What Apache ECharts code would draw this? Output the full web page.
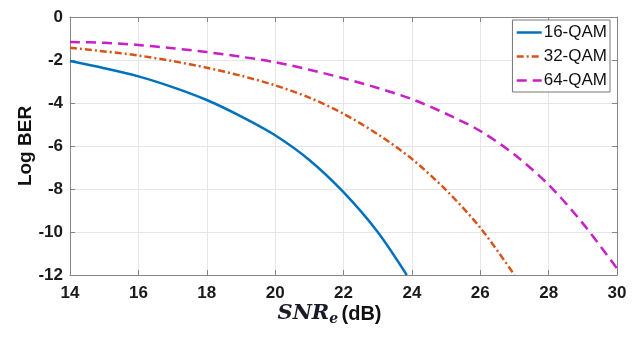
<!DOCTYPE html>
<html>
<head>
<meta charset="utf-8">
<script src="https://cdn.jsdelivr.net/npm/echarts@6/dist/echarts.min.js"></script>
<style>
    html, body { margin: 0; padding: 0; background: #fff; }
    #ber-chart { width: 636px; height: 342px; }
</style>
</head>
<body>
<div id="ber-chart"></div>
<script>
    var seriesNames = ['16-QAM', '32-QAM', '64-QAM'];
    var colors = ['#0072BD', '#D95319', '#C81FC8'];

    // SNR_e (dB) and log10(BER)
    var snr16 = [14, 15, 16, 17, 18, 19, 20, 21, 22, 23, 23.85];
    var ber16 = [-2.05, -2.38, -2.76, -3.26, -3.86, -4.62, -5.5, -6.65, -8.15, -10, -12];
    var snr32 = [14, 15, 16, 17, 18, 19, 20, 21, 22, 23, 24, 25, 26, 27];
    var ber32 = [-1.43, -1.6, -1.79, -2.05, -2.36, -2.73, -3.18, -3.75, -4.5, -5.45, -6.6, -8.05, -9.8, -12];
    var snr64 = [14, 15, 16, 17, 18, 19, 20, 21, 22, 23, 24, 25, 26, 27, 28, 29, 30];
    var ber64 = [-1.16, -1.2, -1.3, -1.45, -1.63, -1.85, -2.1, -2.45, -2.85, -3.3, -3.82, -4.5, -5.3, -6.4, -7.8, -9.6, -11.7];

    var xTicks = {min: 14, max: 30, interval: 2};
    var yTicks = {min: -12, max: 0, interval: 2};

    function pairs(xs, ys) {
        var out = [];
        for (var i = 0; i < xs.length; i++) {
            out.push([xs[i], ys[i]]);
        }
        return out;
    }

    var chart = echarts.init(document.getElementById('ber-chart'));
    var labelFont = {color: '#1a1a1a', fontFamily: 'Liberation Sans', fontWeight: 'bold', fontSize: 17};
    var boxLine = {show: true, onZero: false, lineStyle: {color: '#858585', width: 1}};
    var tickIn = {show: true, inside: true, length: 5, lineStyle: {color: '#858585'}};
    var grid = {show: true, lineStyle: {color: '#e6e6e6', width: 1}};

    function lineSeries(i, xs, ys, dash) {
        return {
            name: seriesNames[i],
            type: 'line',
            data: pairs(xs, ys),
            smooth: 0.3,
            showSymbol: false,
            symbol: 'none',
            lineStyle: {color: colors[i], width: 2.5, type: dash},
            itemStyle: {color: colors[i]}
        };
    }

    var option = {
        animation: false,
        grid: {left: 70, right: 19, top: 17, bottom: 67},
        legend: {
            orient: 'vertical',
            right: 26,
            top: 20,
            backgroundColor: '#fff',
            borderColor: '#777',
            borderWidth: 1,
            padding: [4, 3, 3, 3],
            itemWidth: 25,
            itemHeight: 16,
            itemGap: 7,
            itemStyle: {opacity: 0},
            lineStyle: {opacity: 1, width: 2.5},
            textStyle: {fontFamily: 'Liberation Sans', fontSize: 17, color: '#111', padding: [0, 0, 0, -3]},
            data: seriesNames
        },
        xAxis: [
            {
                type: 'value',
                min: xTicks.min, max: xTicks.max, interval: xTicks.interval,
                axisLine: boxLine,
                axisTick: tickIn,
                splitLine: grid,
                axisLabel: Object.assign({margin: 10}, labelFont),
                name: '{a|SNR}{b|e} {c|(dB)}',
                nameLocation: 'middle',
                nameGap: 27,
                nameMoveOverlap: false,
                nameTextStyle: {
                    padding: [0, 28, 0, 0],
                    rich: {
                        a: {fontFamily: 'DejaVu Serif', fontStyle: 'italic', fontWeight: 'bold', fontSize: 21, color: '#1a1a2a'},
                        b: {fontFamily: 'DejaVu Serif', fontStyle: 'italic', fontWeight: 'bold', fontSize: 14, color: '#1a1a2a', padding: [10, 0, 0, 0]},
                        c: {fontFamily: 'Liberation Sans', fontWeight: 'bold', fontSize: 20, color: '#111'}
                    }
                }
            },
            {
                type: 'value', position: 'top',
                min: xTicks.min, max: xTicks.max, interval: xTicks.interval,
                axisLine: boxLine, axisTick: tickIn,
                axisLabel: {show: false}, splitLine: {show: false}
            }
        ],
        yAxis: [
            {
                type: 'value',
                min: yTicks.min, max: yTicks.max, interval: yTicks.interval,
                axisLine: boxLine,
                axisTick: tickIn,
                splitLine: grid,
                axisLabel: Object.assign({margin: 7}, labelFont),
                name: 'Log BER',
                nameLocation: 'middle',
                nameGap: 35,
                nameMoveOverlap: false,
                nameTextStyle: {fontFamily: 'Liberation Sans', fontWeight: 'bold', fontSize: 19, color: '#111'}
            },
            {
                type: 'value', position: 'right',
                min: yTicks.min, max: yTicks.max, interval: yTicks.interval,
                axisLine: boxLine, axisTick: tickIn,
                axisLabel: {show: false}, splitLine: {show: false}
            }
        ],
        series: [
            lineSeries(0, snr16, ber16, 'solid'),
            lineSeries(1, snr32, ber32, [7, 3, 2, 3]),
            lineSeries(2, snr64, ber64, [10, 6])
        ]
    };
    chart.setOption(option);
</script>
</body>
</html>
